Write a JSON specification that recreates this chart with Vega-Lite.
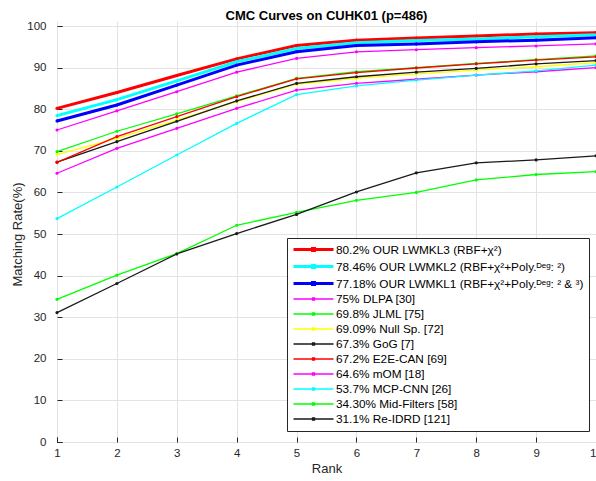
{
  "$schema": "https://vega.github.io/schema/vega-lite/v6.json",
  "width": 539,
  "height": 416,
  "autosize": "none",
  "padding": {"left": 57, "top": 26, "right": 0, "bottom": 39},
  "background": "white",
  "title": {
    "text": "CMC Curves on CUHK01 (p=486)",
    "font": "Liberation Sans",
    "fontSize": 13,
    "fontWeight": "bold",
    "color": "#000000",
    "anchor": "middle",
    "offset": -3
  },
  "config": {
    "view": {"stroke": "#262626", "strokeWidth": 1},
    "font": "Liberation Sans",
    "axis": {
      "domain": false,
      "ticks": true,
      "tickSize": 5,
      "tickColor": "#262626",
      "offset": -5,
      "labelColor": "#262626",
      "labelFont": "Liberation Sans",
      "labelFontSize": 11.5,
      "titleFont": "Liberation Sans",
      "titleFontSize": 13,
      "titleFontWeight": "normal",
      "titleColor": "#262626",
      "gridColor": "#e3e3e3",
      "gridWidth": 1
    }
  },
  "data": {
    "values": [
      {"method": "80.2% OUR LWMKL3 (RBF+χ²)", "rank": 1, "rate": 80.2},
      {"method": "80.2% OUR LWMKL3 (RBF+χ²)", "rank": 2, "rate": 84.0},
      {"method": "80.2% OUR LWMKL3 (RBF+χ²)", "rank": 3, "rate": 88.1},
      {"method": "80.2% OUR LWMKL3 (RBF+χ²)", "rank": 4, "rate": 92.1},
      {"method": "80.2% OUR LWMKL3 (RBF+χ²)", "rank": 5, "rate": 95.3},
      {"method": "80.2% OUR LWMKL3 (RBF+χ²)", "rank": 6, "rate": 96.6},
      {"method": "80.2% OUR LWMKL3 (RBF+χ²)", "rank": 7, "rate": 97.1},
      {"method": "80.2% OUR LWMKL3 (RBF+χ²)", "rank": 8, "rate": 97.6},
      {"method": "80.2% OUR LWMKL3 (RBF+χ²)", "rank": 9, "rate": 98.1},
      {"method": "80.2% OUR LWMKL3 (RBF+χ²)", "rank": 10, "rate": 98.4},
      {"method": "78.46% OUR LWMKL2 (RBF+χ²+Poly.ᴰᵉᵍ: ²)", "rank": 1, "rate": 78.46},
      {"method": "78.46% OUR LWMKL2 (RBF+χ²+Poly.ᴰᵉᵍ: ²)", "rank": 2, "rate": 82.3},
      {"method": "78.46% OUR LWMKL2 (RBF+χ²+Poly.ᴰᵉᵍ: ²)", "rank": 3, "rate": 86.8},
      {"method": "78.46% OUR LWMKL2 (RBF+χ²+Poly.ᴰᵉᵍ: ²)", "rank": 4, "rate": 91.4},
      {"method": "78.46% OUR LWMKL2 (RBF+χ²+Poly.ᴰᵉᵍ: ²)", "rank": 5, "rate": 94.6},
      {"method": "78.46% OUR LWMKL2 (RBF+χ²+Poly.ᴰᵉᵍ: ²)", "rank": 6, "rate": 96.0},
      {"method": "78.46% OUR LWMKL2 (RBF+χ²+Poly.ᴰᵉᵍ: ²)", "rank": 7, "rate": 96.5},
      {"method": "78.46% OUR LWMKL2 (RBF+χ²+Poly.ᴰᵉᵍ: ²)", "rank": 8, "rate": 96.9},
      {"method": "78.46% OUR LWMKL2 (RBF+χ²+Poly.ᴰᵉᵍ: ²)", "rank": 9, "rate": 97.4},
      {"method": "78.46% OUR LWMKL2 (RBF+χ²+Poly.ᴰᵉᵍ: ²)", "rank": 10, "rate": 97.9},
      {"method": "77.18% OUR LWMKL1 (RBF+χ²+Poly.ᴰᵉᵍ: ² & ³)", "rank": 1, "rate": 77.18},
      {"method": "77.18% OUR LWMKL1 (RBF+χ²+Poly.ᴰᵉᵍ: ² & ³)", "rank": 2, "rate": 81.0},
      {"method": "77.18% OUR LWMKL1 (RBF+χ²+Poly.ᴰᵉᵍ: ² & ³)", "rank": 3, "rate": 85.8},
      {"method": "77.18% OUR LWMKL1 (RBF+χ²+Poly.ᴰᵉᵍ: ² & ³)", "rank": 4, "rate": 90.6},
      {"method": "77.18% OUR LWMKL1 (RBF+χ²+Poly.ᴰᵉᵍ: ² & ³)", "rank": 5, "rate": 93.8},
      {"method": "77.18% OUR LWMKL1 (RBF+χ²+Poly.ᴰᵉᵍ: ² & ³)", "rank": 6, "rate": 95.3},
      {"method": "77.18% OUR LWMKL1 (RBF+χ²+Poly.ᴰᵉᵍ: ² & ³)", "rank": 7, "rate": 95.7},
      {"method": "77.18% OUR LWMKL1 (RBF+χ²+Poly.ᴰᵉᵍ: ² & ³)", "rank": 8, "rate": 96.2},
      {"method": "77.18% OUR LWMKL1 (RBF+χ²+Poly.ᴰᵉᵍ: ² & ³)", "rank": 9, "rate": 96.6},
      {"method": "77.18% OUR LWMKL1 (RBF+χ²+Poly.ᴰᵉᵍ: ² & ³)", "rank": 10, "rate": 97.2},
      {"method": "75% DLPA [30]", "rank": 1, "rate": 75.0},
      {"method": "75% DLPA [30]", "rank": 2, "rate": 79.6},
      {"method": "75% DLPA [30]", "rank": 3, "rate": 84.2},
      {"method": "75% DLPA [30]", "rank": 4, "rate": 88.9},
      {"method": "75% DLPA [30]", "rank": 5, "rate": 92.2},
      {"method": "75% DLPA [30]", "rank": 6, "rate": 93.8},
      {"method": "75% DLPA [30]", "rank": 7, "rate": 94.3},
      {"method": "75% DLPA [30]", "rank": 8, "rate": 94.8},
      {"method": "75% DLPA [30]", "rank": 9, "rate": 95.2},
      {"method": "75% DLPA [30]", "rank": 10, "rate": 95.7},
      {"method": "69.8% JLML [75]", "rank": 1, "rate": 69.8},
      {"method": "69.8% JLML [75]", "rank": 2, "rate": 74.7},
      {"method": "69.8% JLML [75]", "rank": 3, "rate": 78.9},
      {"method": "69.8% JLML [75]", "rank": 4, "rate": 83.2},
      {"method": "69.8% JLML [75]", "rank": 5, "rate": 87.4},
      {"method": "69.8% JLML [75]", "rank": 6, "rate": 89.0},
      {"method": "69.8% JLML [75]", "rank": 7, "rate": 90.0},
      {"method": "69.8% JLML [75]", "rank": 8, "rate": 91.0},
      {"method": "69.8% JLML [75]", "rank": 9, "rate": 91.9},
      {"method": "69.8% JLML [75]", "rank": 10, "rate": 92.8},
      {"method": "69.09% Null Sp. [72]", "rank": 1, "rate": 69.09},
      {"method": "69.09% Null Sp. [72]", "rank": 2, "rate": 73.0},
      {"method": "69.09% Null Sp. [72]", "rank": 3, "rate": 77.4},
      {"method": "69.09% Null Sp. [72]", "rank": 4, "rate": 81.8},
      {"method": "69.09% Null Sp. [72]", "rank": 5, "rate": 86.0},
      {"method": "69.09% Null Sp. [72]", "rank": 6, "rate": 87.4},
      {"method": "69.09% Null Sp. [72]", "rank": 7, "rate": 88.5},
      {"method": "69.09% Null Sp. [72]", "rank": 8, "rate": 89.4},
      {"method": "69.09% Null Sp. [72]", "rank": 9, "rate": 90.2},
      {"method": "69.09% Null Sp. [72]", "rank": 10, "rate": 91.2},
      {"method": "67.3% GoG [7]", "rank": 1, "rate": 67.3},
      {"method": "67.3% GoG [7]", "rank": 2, "rate": 72.2},
      {"method": "67.3% GoG [7]", "rank": 3, "rate": 77.1},
      {"method": "67.3% GoG [7]", "rank": 4, "rate": 82.0},
      {"method": "67.3% GoG [7]", "rank": 5, "rate": 86.2},
      {"method": "67.3% GoG [7]", "rank": 6, "rate": 87.8},
      {"method": "67.3% GoG [7]", "rank": 7, "rate": 88.9},
      {"method": "67.3% GoG [7]", "rank": 8, "rate": 89.8},
      {"method": "67.3% GoG [7]", "rank": 9, "rate": 90.9},
      {"method": "67.3% GoG [7]", "rank": 10, "rate": 91.7},
      {"method": "67.2% E2E-CAN [69]", "rank": 1, "rate": 67.2},
      {"method": "67.2% E2E-CAN [69]", "rank": 2, "rate": 73.4},
      {"method": "67.2% E2E-CAN [69]", "rank": 3, "rate": 78.2},
      {"method": "67.2% E2E-CAN [69]", "rank": 4, "rate": 83.0},
      {"method": "67.2% E2E-CAN [69]", "rank": 5, "rate": 87.3},
      {"method": "67.2% E2E-CAN [69]", "rank": 6, "rate": 88.8},
      {"method": "67.2% E2E-CAN [69]", "rank": 7, "rate": 89.9},
      {"method": "67.2% E2E-CAN [69]", "rank": 8, "rate": 90.9},
      {"method": "67.2% E2E-CAN [69]", "rank": 9, "rate": 91.8},
      {"method": "67.2% E2E-CAN [69]", "rank": 10, "rate": 92.6},
      {"method": "64.6% mOM [18]", "rank": 1, "rate": 64.6},
      {"method": "64.6% mOM [18]", "rank": 2, "rate": 70.6},
      {"method": "64.6% mOM [18]", "rank": 3, "rate": 75.4},
      {"method": "64.6% mOM [18]", "rank": 4, "rate": 80.2},
      {"method": "64.6% mOM [18]", "rank": 5, "rate": 84.6},
      {"method": "64.6% mOM [18]", "rank": 6, "rate": 86.2},
      {"method": "64.6% mOM [18]", "rank": 7, "rate": 87.2},
      {"method": "64.6% mOM [18]", "rank": 8, "rate": 88.2},
      {"method": "64.6% mOM [18]", "rank": 9, "rate": 89.0},
      {"method": "64.6% mOM [18]", "rank": 10, "rate": 90.0},
      {"method": "53.7% MCP-CNN [26]", "rank": 1, "rate": 53.7},
      {"method": "53.7% MCP-CNN [26]", "rank": 2, "rate": 61.3},
      {"method": "53.7% MCP-CNN [26]", "rank": 3, "rate": 69.0},
      {"method": "53.7% MCP-CNN [26]", "rank": 4, "rate": 76.6},
      {"method": "53.7% MCP-CNN [26]", "rank": 5, "rate": 83.5},
      {"method": "53.7% MCP-CNN [26]", "rank": 6, "rate": 85.6},
      {"method": "53.7% MCP-CNN [26]", "rank": 7, "rate": 87.0},
      {"method": "53.7% MCP-CNN [26]", "rank": 8, "rate": 88.2},
      {"method": "53.7% MCP-CNN [26]", "rank": 9, "rate": 89.2},
      {"method": "53.7% MCP-CNN [26]", "rank": 10, "rate": 90.6},
      {"method": "34.30% Mid-Filters [58]", "rank": 1, "rate": 34.3},
      {"method": "34.30% Mid-Filters [58]", "rank": 2, "rate": 40.1},
      {"method": "34.30% Mid-Filters [58]", "rank": 3, "rate": 45.3},
      {"method": "34.30% Mid-Filters [58]", "rank": 4, "rate": 52.1},
      {"method": "34.30% Mid-Filters [58]", "rank": 5, "rate": 55.2},
      {"method": "34.30% Mid-Filters [58]", "rank": 6, "rate": 58.1},
      {"method": "34.30% Mid-Filters [58]", "rank": 7, "rate": 60.0},
      {"method": "34.30% Mid-Filters [58]", "rank": 8, "rate": 63.0},
      {"method": "34.30% Mid-Filters [58]", "rank": 9, "rate": 64.3},
      {"method": "34.30% Mid-Filters [58]", "rank": 10, "rate": 65.0},
      {"method": "31.1% Re-IDRD [121]", "rank": 1, "rate": 31.1},
      {"method": "31.1% Re-IDRD [121]", "rank": 2, "rate": 38.1},
      {"method": "31.1% Re-IDRD [121]", "rank": 3, "rate": 45.2},
      {"method": "31.1% Re-IDRD [121]", "rank": 4, "rate": 50.1},
      {"method": "31.1% Re-IDRD [121]", "rank": 5, "rate": 54.7},
      {"method": "31.1% Re-IDRD [121]", "rank": 6, "rate": 60.1},
      {"method": "31.1% Re-IDRD [121]", "rank": 7, "rate": 64.7},
      {"method": "31.1% Re-IDRD [121]", "rank": 8, "rate": 67.1},
      {"method": "31.1% Re-IDRD [121]", "rank": 9, "rate": 67.8},
      {"method": "31.1% Re-IDRD [121]", "rank": 10, "rate": 68.8}
    ]
  },
  "encoding": {
    "x": {
      "field": "rank",
      "type": "quantitative",
      "scale": {"domain": [1, 10], "nice": false, "zero": false},
      "axis": {
        "values": [1, 2, 3, 4, 5, 6, 7, 8, 9, 10],
        "format": "d",
        "title": "Rank",
        "grid": true,
        "labelFlush": false,
        "labelPadding": 5,
        "titlePadding": 4
      }
    },
    "y": {
      "field": "rate",
      "type": "quantitative",
      "scale": {"domain": [0, 100], "nice": false},
      "axis": {
        "values": [0, 10, 20, 30, 40, 50, 60, 70, 80, 90, 100],
        "title": "Matching Rate(%)",
        "grid": true,
        "labelFlush": false,
        "labelPadding": 11,
        "titlePadding": 2
      }
    },
    "color": {
      "field": "method",
      "type": "nominal",
      "scale": {
        "domain": [
          "80.2% OUR LWMKL3 (RBF+χ²)",
          "78.46% OUR LWMKL2 (RBF+χ²+Poly.ᴰᵉᵍ: ²)",
          "77.18% OUR LWMKL1 (RBF+χ²+Poly.ᴰᵉᵍ: ² & ³)",
          "75% DLPA [30]",
          "69.8% JLML [75]",
          "69.09% Null Sp. [72]",
          "67.3% GoG [7]",
          "67.2% E2E-CAN [69]",
          "64.6% mOM [18]",
          "53.7% MCP-CNN [26]",
          "34.30% Mid-Filters [58]",
          "31.1% Re-IDRD [121]"
        ],
        "range": [
          "#ff0000", "#00ffff", "#0000ff", "#ff00ff", "#00ff00", "#ffff00",
          "#1a1a1a", "#ff0000", "#ff00ff", "#00ffff", "#00ff00", "#1a1a1a"
        ]
      },
      "legend": {
        "orient": "none",
        "legendX": 230,
        "legendY": 212,
        "title": null,
        "fillColor": "white",
        "strokeColor": "#262626",
        "padding": 5,
        "labelFont": "Liberation Sans",
        "labelFontSize": 11.8,
        "labelColor": "#000000",
        "labelLimit": 400,
        "labelOffset": 16,
        "symbolOffset": 15,
        "rowPadding": 2,
        "symbolType": "M-4,0L4,0M-0.2,-0.2H0.2V0.2H-0.2Z",
        "symbolSize": 100
      }
    },
    "strokeWidth": {
      "field": "method",
      "type": "nominal",
      "scale": {
        "type": "ordinal",
        "domain": [
          "80.2% OUR LWMKL3 (RBF+χ²)",
          "78.46% OUR LWMKL2 (RBF+χ²+Poly.ᴰᵉᵍ: ²)",
          "77.18% OUR LWMKL1 (RBF+χ²+Poly.ᴰᵉᵍ: ² & ³)",
          "75% DLPA [30]",
          "69.8% JLML [75]",
          "69.09% Null Sp. [72]",
          "67.3% GoG [7]",
          "67.2% E2E-CAN [69]",
          "64.6% mOM [18]",
          "53.7% MCP-CNN [26]",
          "34.30% Mid-Filters [58]",
          "31.1% Re-IDRD [121]"
        ],
        "range": [3, 3, 3, 1.3, 1.3, 1.3, 1.3, 1.3, 1.3, 1.3, 1.3, 1.3]
      },
      "legend": {
        "orient": "none",
        "legendX": 230,
        "legendY": 212,
        "title": null
      }
    }
  },
  "layer": [
    {
      "mark": {"type": "line"}
    },
    {
      "mark": {"type": "point", "filled": true, "shape": "circle", "opacity": 1, "size": 10, "strokeWidth": 0}
    }
  ]
}
